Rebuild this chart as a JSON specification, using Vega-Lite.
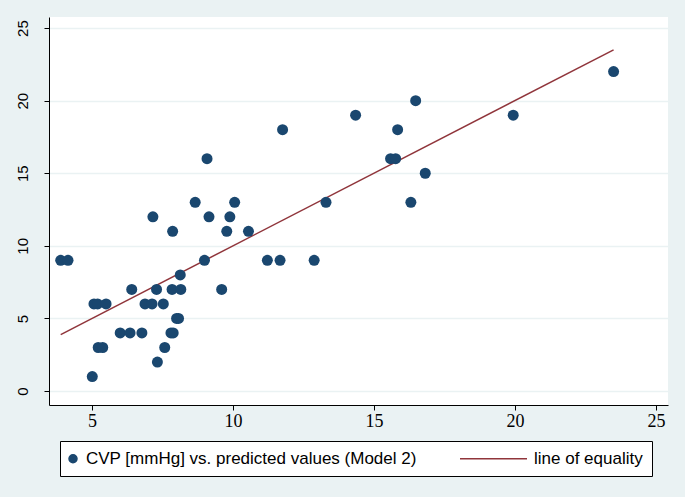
{
  "$schema": "https://vega.github.io/schema/vega-lite/v6.json",
  "autosize": {"type": "none"},
  "padding": {"left": 49, "top": 17, "right": 17, "bottom": 92},
  "width": 619,
  "height": 388,
  "background": "#EAF2F3",
  "config": {
    "view": {"fill": "white", "stroke": null},
    "font": "Liberation Sans",
    "axis": {"labelFont": "Liberation Sans", "labelColor": "black", "labelFontSize": 15, "domainColor": "black", "tickColor": "black", "tickSize": 5, "title": null}
  },
  "datasets": {
    "points": [
      {"pred": 3.89, "cvp": 9, "series": "CVP [mmHg] vs. predicted values (Model 2)"},
      {"pred": 4.15, "cvp": 9, "series": "CVP [mmHg] vs. predicted values (Model 2)"},
      {"pred": 5.01, "cvp": 1, "series": "CVP [mmHg] vs. predicted values (Model 2)"},
      {"pred": 5.07, "cvp": 6, "series": "CVP [mmHg] vs. predicted values (Model 2)"},
      {"pred": 5.2, "cvp": 6, "series": "CVP [mmHg] vs. predicted values (Model 2)"},
      {"pred": 5.5, "cvp": 6, "series": "CVP [mmHg] vs. predicted values (Model 2)"},
      {"pred": 5.22, "cvp": 3, "series": "CVP [mmHg] vs. predicted values (Model 2)"},
      {"pred": 5.38, "cvp": 3, "series": "CVP [mmHg] vs. predicted values (Model 2)"},
      {"pred": 6.0, "cvp": 4, "series": "CVP [mmHg] vs. predicted values (Model 2)"},
      {"pred": 6.35, "cvp": 4, "series": "CVP [mmHg] vs. predicted values (Model 2)"},
      {"pred": 6.77, "cvp": 4, "series": "CVP [mmHg] vs. predicted values (Model 2)"},
      {"pred": 7.8, "cvp": 4, "series": "CVP [mmHg] vs. predicted values (Model 2)"},
      {"pred": 7.88, "cvp": 4, "series": "CVP [mmHg] vs. predicted values (Model 2)"},
      {"pred": 7.32, "cvp": 2, "series": "CVP [mmHg] vs. predicted values (Model 2)"},
      {"pred": 7.58, "cvp": 3, "series": "CVP [mmHg] vs. predicted values (Model 2)"},
      {"pred": 6.88, "cvp": 6, "series": "CVP [mmHg] vs. predicted values (Model 2)"},
      {"pred": 7.13, "cvp": 6, "series": "CVP [mmHg] vs. predicted values (Model 2)"},
      {"pred": 7.53, "cvp": 6, "series": "CVP [mmHg] vs. predicted values (Model 2)"},
      {"pred": 6.41, "cvp": 7, "series": "CVP [mmHg] vs. predicted values (Model 2)"},
      {"pred": 7.29, "cvp": 7, "series": "CVP [mmHg] vs. predicted values (Model 2)"},
      {"pred": 7.84, "cvp": 7, "series": "CVP [mmHg] vs. predicted values (Model 2)"},
      {"pred": 8.15, "cvp": 7, "series": "CVP [mmHg] vs. predicted values (Model 2)"},
      {"pred": 9.6, "cvp": 7, "series": "CVP [mmHg] vs. predicted values (Model 2)"},
      {"pred": 8.13, "cvp": 8, "series": "CVP [mmHg] vs. predicted values (Model 2)"},
      {"pred": 8.0, "cvp": 5, "series": "CVP [mmHg] vs. predicted values (Model 2)"},
      {"pred": 8.07, "cvp": 5, "series": "CVP [mmHg] vs. predicted values (Model 2)"},
      {"pred": 8.99, "cvp": 9, "series": "CVP [mmHg] vs. predicted values (Model 2)"},
      {"pred": 11.22, "cvp": 9, "series": "CVP [mmHg] vs. predicted values (Model 2)"},
      {"pred": 11.67, "cvp": 9, "series": "CVP [mmHg] vs. predicted values (Model 2)"},
      {"pred": 12.88, "cvp": 9, "series": "CVP [mmHg] vs. predicted values (Model 2)"},
      {"pred": 7.86, "cvp": 11, "series": "CVP [mmHg] vs. predicted values (Model 2)"},
      {"pred": 9.78, "cvp": 11, "series": "CVP [mmHg] vs. predicted values (Model 2)"},
      {"pred": 10.55, "cvp": 11, "series": "CVP [mmHg] vs. predicted values (Model 2)"},
      {"pred": 7.16, "cvp": 12, "series": "CVP [mmHg] vs. predicted values (Model 2)"},
      {"pred": 9.15, "cvp": 12, "series": "CVP [mmHg] vs. predicted values (Model 2)"},
      {"pred": 9.89, "cvp": 12, "series": "CVP [mmHg] vs. predicted values (Model 2)"},
      {"pred": 8.66, "cvp": 13, "series": "CVP [mmHg] vs. predicted values (Model 2)"},
      {"pred": 10.06, "cvp": 13, "series": "CVP [mmHg] vs. predicted values (Model 2)"},
      {"pred": 13.3, "cvp": 13, "series": "CVP [mmHg] vs. predicted values (Model 2)"},
      {"pred": 16.31, "cvp": 13, "series": "CVP [mmHg] vs. predicted values (Model 2)"},
      {"pred": 9.08, "cvp": 16, "series": "CVP [mmHg] vs. predicted values (Model 2)"},
      {"pred": 15.59, "cvp": 16, "series": "CVP [mmHg] vs. predicted values (Model 2)"},
      {"pred": 15.77, "cvp": 16, "series": "CVP [mmHg] vs. predicted values (Model 2)"},
      {"pred": 16.82, "cvp": 15, "series": "CVP [mmHg] vs. predicted values (Model 2)"},
      {"pred": 11.76, "cvp": 18, "series": "CVP [mmHg] vs. predicted values (Model 2)"},
      {"pred": 15.84, "cvp": 18, "series": "CVP [mmHg] vs. predicted values (Model 2)"},
      {"pred": 14.35, "cvp": 19, "series": "CVP [mmHg] vs. predicted values (Model 2)"},
      {"pred": 19.94, "cvp": 19, "series": "CVP [mmHg] vs. predicted values (Model 2)"},
      {"pred": 16.48, "cvp": 20, "series": "CVP [mmHg] vs. predicted values (Model 2)"},
      {"pred": 23.5, "cvp": 22, "series": "CVP [mmHg] vs. predicted values (Model 2)"}
    ],
    "line": [
      {"pred": 3.89, "cvp": 3.89, "series": "line of equality"},
      {"pred": 23.5, "cvp": 23.5, "series": "line of equality"}
    ]
  },
  "encoding": {
    "x": {"field": "pred", "type": "quantitative", "scale": {"domain": [3.475, 25.43], "nice": false, "zero": false}, "axis": {"values": [5, 10, 15, 20, 25], "grid": false, "labelPadding": 2, "labelFont": "Liberation Sans Narrow", "labelFontSize": 18}},
    "y": {"field": "cvp", "type": "quantitative", "scale": {"domain": [-0.96, 25.76], "nice": false, "zero": false}, "axis": {"values": [0, 5, 10, 15, 20, 25], "grid": true, "gridColor": "#EAF2F3", "gridWidth": 1.5, "labelAngle": -90, "labelAlign": "center", "labelBaseline": "bottom", "labelPadding": 14}},
    "color": {
      "field": "series", "type": "nominal",
      "scale": {"domain": ["CVP [mmHg] vs. predicted values (Model 2)", "line of equality"], "range": ["#1a476f", "#90353b"]},
      "legend": {
        "title": null, "orient": "none", "legendX": 11, "legendY": 424, "direction": "horizontal", "columns": 2,
        "fillColor": "white", "strokeColor": "black", "padding": 9, "cornerRadius": 0,
        "labelFont": "Liberation Sans", "labelFontSize": 17, "labelColor": "black", "labelOffset": 0, "labelLimit": 0,
        "symbolSize": 64, "columnPadding": 40,
        "encode": {
          "symbols": {
            "update": {
              "x": {"value": 4},
              "shape": {"signal": "datum.value === 'line of equality' ? 'M-15.25,0H1.5' : 'circle'"},
              "fill": {"signal": "datum.value === 'line of equality' ? 'transparent' : '#1a476f'"},
              "stroke": {"signal": "datum.value === 'line of equality' ? '#90353b' : 'transparent'"},
              "strokeWidth": {"value": 1.5},
              "opacity": {"value": 1}
            }
          }
        }
      }
    }
  },
  "layer": [
    {"data": {"name": "line"}, "mark": {"type": "line", "strokeWidth": 1.5}},
    {"data": {"name": "points"}, "mark": {"type": "point", "filled": true, "shape": "circle", "size": 121, "opacity": 1}}
  ]
}
